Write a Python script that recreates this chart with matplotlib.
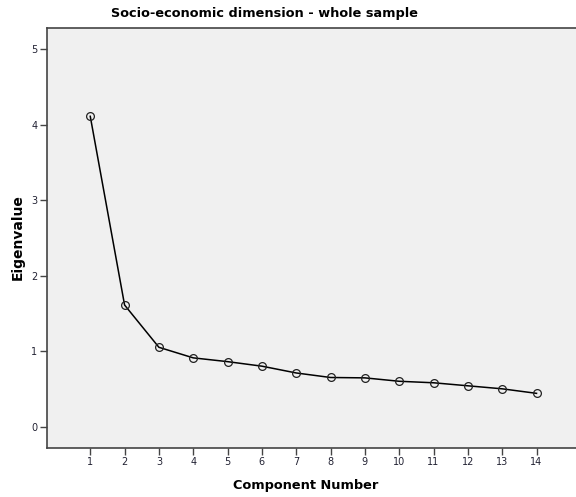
import matplotlib
matplotlib.use("Agg")
import matplotlib.pyplot as plt

components = [1, 2, 3, 4, 5, 6, 7, 8, 9, 10, 11, 12, 13, 14]
eigenvalues = [4.11, 1.61, 1.05, 0.91, 0.86, 0.80, 0.71, 0.65, 0.645, 0.60, 0.58, 0.54, 0.50, 0.44]
y_ticks = [0, 1, 2, 3, 4, 5]

title = "Socio-economic dimension - whole sample"
xlabel = "Component Number"
ylabel = "Eigenvalue"

fig = plt.figure(figsize=(5.76, 4.97), dpi=100)
ax = fig.add_axes([0.081, 0.0992, 0.919, 0.8445])
ax.set_facecolor("#f0f0f0")

ax.plot(components, eigenvalues, color="black", linewidth=1.1,
        marker="o", markersize=5.6, markerfacecolor="none",
        markeredgecolor="#222222", markeredgewidth=0.9)

ax.set_xlim(-0.27, 15.15)
ax.set_ylim(-0.28, 5.28)
ax.set_xticks(components)
ax.set_xticklabels([str(c) for c in components])
ax.set_yticks(y_ticks)

for s in ["left", "bottom", "top"]:
    ax.spines[s].set_color("#444444")
    ax.spines[s].set_linewidth(1.2)
ax.spines["right"].set_visible(False)

ax.tick_params(axis="both", direction="out", length=4.8, width=1.0,
               color="#444444", labelsize=7, labelcolor="#222233", pad=2)

fig.text(264.5 / 576, 1 - 13 / 497, title, ha="center", va="center",
         fontsize=9.3, fontweight="bold")
fig.text(305.7 / 576, 1 - 485 / 497, xlabel, ha="center", va="center",
         fontsize=9.3, fontweight="bold")
fig.text(18 / 576, 1 - 236.7 / 497, ylabel, ha="center", va="center",
         fontsize=10, fontweight="bold", rotation=90)

fig.savefig("out.png", dpi=100)
